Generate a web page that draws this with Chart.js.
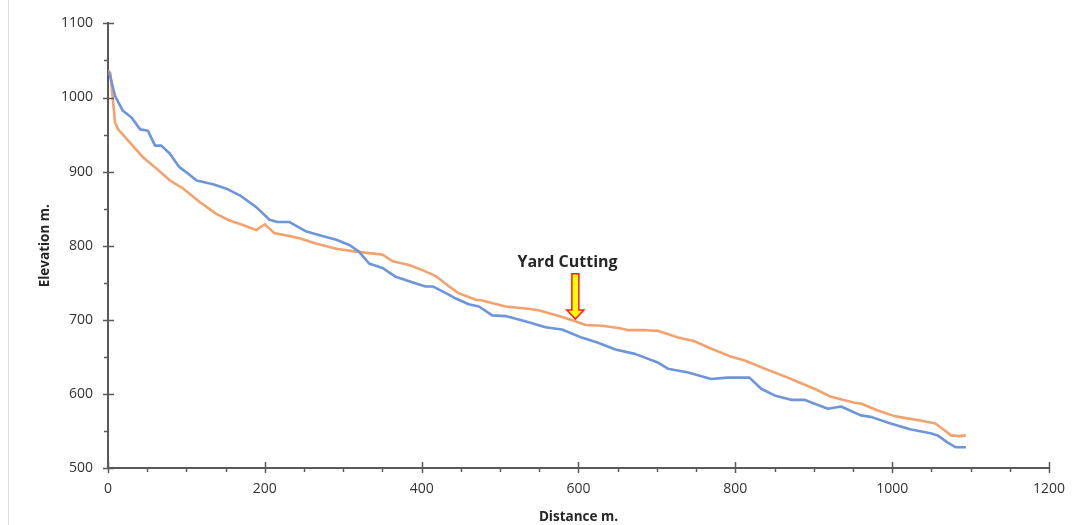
<!DOCTYPE html>
<html>
<head>
<meta charset="utf-8">
<script src="https://cdn.jsdelivr.net/npm/chart.js@4"></script>
<style>
  html, body { margin: 0; padding: 0; background: #ffffff; }
  #wrap { position: relative; width: 1078px; height: 525px; }
  #frame { position: absolute; left: 8px; top: 0; width: 1px; height: 525px; background: #dcdcdc; }
  canvas { position: absolute; left: 0; top: 0; }
</style>
</head>
<body>
<div id="wrap">
  <div id="frame"></div>
  <canvas id="c" width="1078" height="525"></canvas>
</div>
<script>
// ---- data ----
const blueDistance = [0,3,9,19,30,41,51,60,68,79,91,100,113,134,151,168,189,206,216,231,253,270,291,308,320,333,350,367,384,405,414,431,443,460,473,490,507,532,558,579,604,625,647,672,702,714,740,769,790,818,833,850,871,888,918,935,960,973,998,1024,1049,1058,1070,1081,1094];
const blueElevation = [1036,1028,1002,982,973,957,955,935,935,924,906,899,888,883,877,868,852,835,832,832,819,814,808,801,792,776,770,758,752,745,745,736,729,721,718,706,705,698,690,687,676,669,660,654,642,634,629,620,622,622,607,598,592,592,580,583,571,569,560,552,547,544,535,528,528];
const orangeDistance = [0,3,9,13,28,45,62,79,96,117,138,155,172,189,200,212,231,244,265,291,316,333,350,363,384,401,418,435,447,469,477,507,536,549,575,596,609,630,651,664,685,702,727,748,765,795,812,833,867,880,901,922,952,960,981,1003,1019,1036,1055,1064,1075,1085,1094];
const orangeElevation = [1036,1033,966,957,939,919,904,888,877,859,843,834,828,821,829,817,813,810,803,796,792,790,788,779,774,767,759,745,736,727,726,718,715,713,705,698,693,692,689,686,686,685,676,671,663,650,645,636,622,616,607,596,588,587,578,570,567,564,560,553,544,543,544];
const xTickValues = [0,200,400,600,800,1000,1200];
const yTickValues = [500,600,700,800,900,1000,1100];
const annotationText = 'Yard Cutting';
const annotationTextAt = [586, 778];      // distance, elevation
const arrowDistance = 596;
const arrowFromElevation = 762;
const arrowToElevation = 701;

const toPoints = (xs, ys) => xs.map((x, i) => ({ x: x, y: ys[i] }));

const axisPlugin = {
  id: 'axisTicks',
  afterDraw(chart) {
    const ctx = chart.ctx;
    const xs = chart.scales.x, ys = chart.scales.y;
    const area = chart.chartArea;
    ctx.save();
    ctx.strokeStyle = '#595959';
    ctx.lineWidth = 1.5;
    xTickValues.forEach(v => {
      const px = Math.round(xs.getPixelForValue(v)) + 0.5;
      ctx.beginPath(); ctx.moveTo(px, area.bottom - 6); ctx.lineTo(px, area.bottom + 5); ctx.stroke();
    });
    yTickValues.forEach(v => {
      const py = Math.round(ys.getPixelForValue(v)) + 0.5;
      ctx.beginPath(); ctx.moveTo(area.left - 5, py); ctx.lineTo(area.left + 6, py); ctx.stroke();
    });
    for (let i = 0; i < xTickValues.length - 1; i++) {
      const a = xTickValues[i], b = xTickValues[i + 1];
      for (let v = a + 50; v < b; v += 50) {
        const px = Math.round(xs.getPixelForValue(v)) + 0.5;
        ctx.beginPath(); ctx.moveTo(px, area.bottom); ctx.lineTo(px, area.bottom + 4); ctx.stroke();
      }
    }
    for (let i = 0; i < yTickValues.length - 1; i++) {
      const a = yTickValues[i], b = yTickValues[i + 1];
      for (let v = a + 50; v < b; v += 50) {
        const py = Math.round(ys.getPixelForValue(v)) + 0.5;
        ctx.beginPath(); ctx.moveTo(area.left - 4, py); ctx.lineTo(area.left, py); ctx.stroke();
      }
    }
    ctx.restore();
  },
  afterDatasetsDraw(chart) {
    const ctx = chart.ctx;
    const xs = chart.scales.x, ys = chart.scales.y;
    ctx.save();
    ctx.font = 'bold 16px "Open Sans"';
    ctx.fillStyle = '#262626';
    ctx.textAlign = 'center';
    ctx.textBaseline = 'middle';
    ctx.fillText(annotationText, xs.getPixelForValue(annotationTextAt[0]), ys.getPixelForValue(annotationTextAt[1]));
    const ax = xs.getPixelForValue(arrowDistance);
    const y0 = ys.getPixelForValue(arrowFromElevation);
    const y1 = ys.getPixelForValue(arrowToElevation);
    const shaft = 3.5, head = 8.5, headLen = 9;
    ctx.beginPath();
    ctx.moveTo(ax - shaft, y0);
    ctx.lineTo(ax + shaft, y0);
    ctx.lineTo(ax + shaft, y1 - headLen);
    ctx.lineTo(ax + head, y1 - headLen);
    ctx.lineTo(ax, y1);
    ctx.lineTo(ax - head, y1 - headLen);
    ctx.lineTo(ax - shaft, y1 - headLen);
    ctx.closePath();
    ctx.fillStyle = '#ffff00';
    ctx.fill();
    ctx.strokeStyle = '#ff1a1a';
    ctx.lineWidth = 1.5;
    ctx.lineJoin = 'miter';
    ctx.stroke();
    ctx.restore();
  }
};

const tickFont = { family: '"Open Sans"', size: 14 };
const titleFont = { family: '"Open Sans"', size: 13.5, weight: 'bold' };

new Chart(document.getElementById('c'), {
  type: 'scatter',
  data: {
    datasets: [
      {
        label: 'Profile 1',
        data: toPoints(blueDistance, blueElevation),
        showLine: true,
        borderColor: '#6d95dc',
        borderWidth: 2.6,
        pointRadius: 0,
        tension: 0,
        borderJoinStyle: 'round',
        fill: false
      },
      {
        label: 'Profile 2',
        data: toPoints(orangeDistance, orangeElevation),
        showLine: true,
        borderColor: '#f3a26d',
        borderWidth: 2.6,
        pointRadius: 0,
        tension: 0,
        borderJoinStyle: 'round',
        fill: false
      }
    ]
  },
  options: {
    responsive: false,
    animation: false,
    events: [],
    layout: { padding: { left: 33, right: 26, top: 20, bottom: 0 } },
    plugins: { legend: { display: false }, tooltip: { enabled: false }, title: { display: false } },
    scales: {
      x: {
        type: 'linear', min: 0, max: 1200,
        afterBuildTicks(s) { s.ticks = xTickValues.map(v => ({ value: v })); },
        afterFit(s) { s.height = 57; },
        ticks: { font: tickFont, color: '#333333', padding: 13, maxRotation: 0, callback: v => String(v) },
        grid: { display: false, drawTicks: false },
        border: { display: true, color: '#595959', width: 2 },
        title: { display: true, text: 'Distance m.', font: titleFont, color: '#262626', padding: { top: 0, bottom: 0 } }
      },
      y: {
        type: 'linear', min: 500, max: 1100,
        afterBuildTicks(s) { s.ticks = yTickValues.map(v => ({ value: v })); },
        afterFit(s) { s.width = 75; },
        ticks: { font: tickFont, color: '#333333', padding: 15, callback: v => String(v) },
        grid: { display: false, drawTicks: false },
        border: { display: true, color: '#595959', width: 2 },
        title: { display: true, text: 'Elevation m.', font: titleFont, color: '#262626', padding: { top: 4, bottom: 4 } }
      }
    }
  },
  plugins: [axisPlugin]
});
</script>
</body>
</html>
